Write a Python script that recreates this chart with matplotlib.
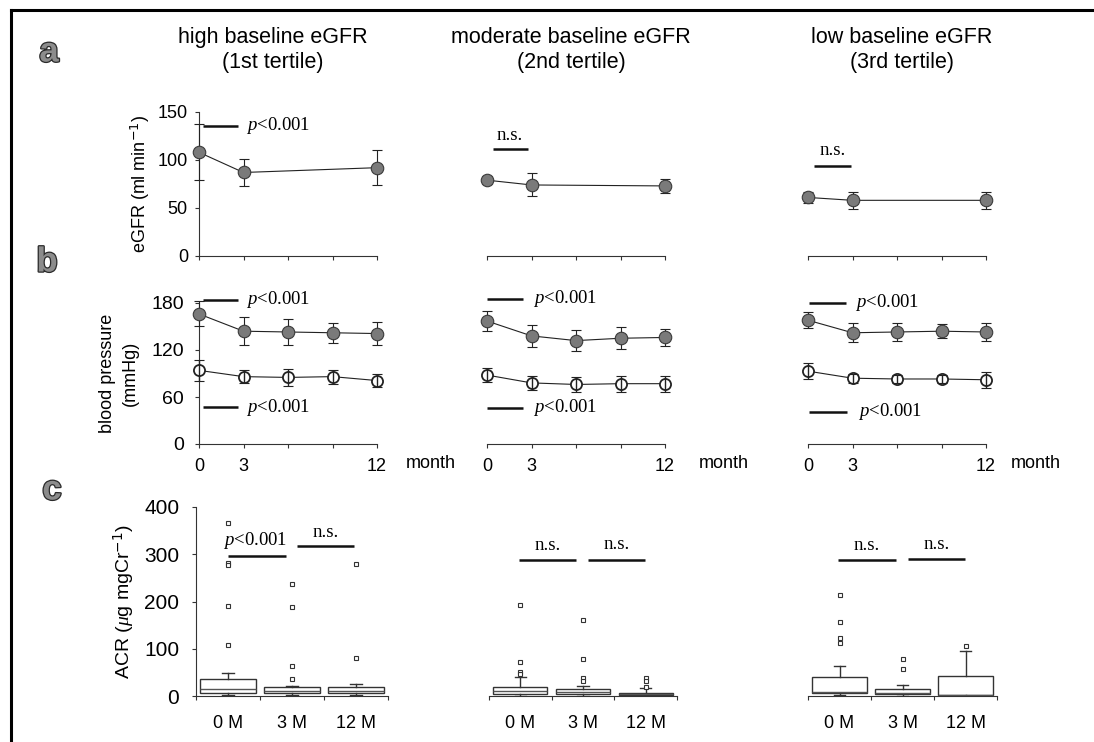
import matplotlib
matplotlib.use("Agg")
import matplotlib.pyplot as plt
from matplotlib.lines import Line2D
import matplotlib.patheffects as pe

plt.rcParams['font.family'] = ['Liberation Sans', 'DejaVu Sans']
plt.rcParams['mathtext.fontset'] = 'custom'
plt.rcParams['mathtext.it'] = 'Liberation Serif:italic'
plt.rcParams['mathtext.rm'] = 'Liberation Serif'

# ---------------- data ----------------
group_titles = ["high baseline eGFR\n(1st tertile)",
                "moderate baseline eGFR\n(2nd tertile)",
                "low baseline eGFR\n(3rd tertile)"]

egfr_months = [0, 3, 12]
egfr_mean_high = [108, 87, 92]
egfr_err_high = [29, 14, 18]
egfr_mean_mod = [79, 74, 73]
egfr_err_mod = [4, 12, 7]
egfr_mean_low = [61, 58, 58]
egfr_err_low = [6, 9, 9]

bp_months = [0, 3, 6, 9, 12]
sbp_high = [166, 144, 143, 142, 141]
sbp_err_high = [16, 18, 17, 13, 15]
dbp_high = [94, 86, 85, 86, 81]
dbp_err_high = [13, 8, 11, 9, 8]
sbp_mod = [157, 138, 132, 135, 136]
sbp_err_mod = [13, 14, 13, 14, 11]
dbp_mod = [88, 78, 76, 77, 77]
dbp_err_mod = [9, 9, 10, 10, 10]
sbp_low = [158, 142, 143, 144, 143]
sbp_err_low = [10, 12, 11, 9, 12]
dbp_low = [93, 84, 83, 83, 82]
dbp_err_low = [10, 6, 5, 5, 10]

acr_labels = ["0 M", "3 M", "12 M"]
# per group: q1, median, q3, whisker low, whisker high, outliers
acr_q1_high = [6, 6, 6]
acr_med_high = [15, 11, 11]
acr_q3_high = [36, 19, 19]
acr_lo_high = [2, 2, 2]
acr_hi_high = [48, 21, 25]
acr_out_high = [[366, 281, 277, 190, 107], [238, 188, 64, 36], [279, 80]]

acr_q1_mod = [4, 4, 2]
acr_med_mod = [11, 9, 4]
acr_q3_mod = [20, 15, 6]
acr_lo_mod = [1, 1, 0]
acr_hi_mod = [41, 21, 17]
acr_out_mod = [[193, 72, 51, 46], [161, 78, 38, 32], [38, 32, 19]]

acr_q1_low = [6, 5, 2]
acr_med_low = [8, 6, 3]
acr_q3_low = [40, 15, 42]
acr_lo_low = [2, 1, 0]
acr_hi_low = [64, 24, 96]
acr_out_low = [[213, 156, 122, 112], [78, 58], [106]]

# ---------------- layout ----------------
W, H = 1094, 742
fig = plt.figure(figsize=(W / 100, H / 100), dpi=100)


def px_axes(x0, x1, ytop, ybot):
    return fig.add_axes([x0 / W, 1 - ybot / H, (x1 - x0) / W, (ybot - ytop) / H])


SPINE = '#333333'
MFILL = '#7a7a7a'
MEDGE = '#3a3a3a'
SERIF = 'Liberation Serif'
PTXT = r'$\it{p}$<0.001'
FS = 13


def style_axes(ax, show_left, ysize=FS, ypad=5):
    for s in ['top', 'right']:
        ax.spines[s].set_visible(False)
    ax.spines['left'].set_visible(show_left)
    for s in ['left', 'bottom']:
        ax.spines[s].set_linewidth(0.8)
        ax.spines[s].set_color(SPINE)
    ax.tick_params(direction='out', length=3, width=0.8, color=SPINE,
                   labelsize=FS, pad=5)
    ax.tick_params(axis='y', labelsize=ysize, pad=ypad)
    if not show_left:
        ax.tick_params(axis='y', left=False, labelleft=False)


def filled_series(ax, x, y, e):
    ax.errorbar(x, y, yerr=e, fmt='none', ecolor='#222222', elinewidth=0.8,
                capsize=3.8, capthick=0.8, zorder=3, clip_on=False)
    ax.plot(x, y, '-', color='#222222', lw=0.8, zorder=3, clip_on=False)
    ax.plot(x, y, 'o', ms=9, mfc=MFILL, mec=MEDGE, mew=0.8, zorder=4,
            clip_on=False)


def open_series(ax, x, y, e):
    ax.plot(x, y, '-', color='#222222', lw=0.8, zorder=3, clip_on=False)
    ax.plot(x, y, 'o', ms=8, mfc='white', mec='#222222', mew=1.3, zorder=4,
            clip_on=False)
    ax.errorbar(x, y, yerr=e, fmt='none', ecolor='#222222', elinewidth=1.0,
                capsize=3.8, capthick=0.8, zorder=5, clip_on=False)


def sig_line(ax, x0, x1, y):
    ax.plot([x0, x1], [y, y], color='#111111', lw=1.8, clip_on=False,
            solid_capstyle='butt')


def sig_text(ax, x, y, s, ha='left'):
    ax.text(x, y, s, fontsize=13.5, family=SERIF, ha=ha, va='center')


# columns x-extents (pixels)
colx_ab = [(199, 377), (487, 665), (808, 986)]
colx_c = [(196, 388), (489, 677), (808, 997)]

egfr_means = [egfr_mean_high, egfr_mean_mod, egfr_mean_low]
egfr_errs = [egfr_err_high, egfr_err_mod, egfr_err_low]
sbps = [sbp_high, sbp_mod, sbp_low]
sbp_errs = [sbp_err_high, sbp_err_mod, sbp_err_low]
dbps = [dbp_high, dbp_mod, dbp_low]
dbp_errs = [dbp_err_high, dbp_err_mod, dbp_err_low]

acr_q1 = [acr_q1_high, acr_q1_mod, acr_q1_low]
acr_med = [acr_med_high, acr_med_mod, acr_med_low]
acr_q3 = [acr_q3_high, acr_q3_mod, acr_q3_low]
acr_lo = [acr_lo_high, acr_lo_mod, acr_lo_low]
acr_hi = [acr_hi_high, acr_hi_mod, acr_hi_low]
acr_out = [acr_out_high, acr_out_mod, acr_out_low]

title_x = [273, 571, 902]
month_x = [1.16, 1.19, 1.14]

for i in range(3):
    # ---- panel a ----
    x0, x1 = colx_ab[i]
    ax = px_axes(x0, x1, 112, 256)
    style_axes(ax, i == 0)
    ax.set_xlim(0, 12)
    ax.set_ylim(0, 150)
    ax.set_xticks([0, 3, 6, 9, 12])
    ax.tick_params(axis='x', labelbottom=False)
    ax.set_yticks([0, 50, 100, 150])
    filled_series(ax, egfr_months, egfr_means[i], egfr_errs[i])
    if i == 0:
        ax.set_ylabel('eGFR (ml min$^{\\mathsf{-1}}$)', fontsize=FS, labelpad=4)
        sig_line(ax, 0.27, 2.63, 135)
        sig_text(ax, 3.2, 136, PTXT)
    elif i == 1:
        sig_line(ax, 0.4, 2.76, 111)
        sig_text(ax, 1.5, 126, 'n.s.', ha='center')
    else:
        sig_line(ax, 0.4, 2.9, 94)
        sig_text(ax, 1.65, 110, 'n.s.', ha='center')

    # ---- panel b ----
    ax = px_axes(x0, x1, 303, 444)
    style_axes(ax, i == 0, ysize=14, ypad=8)
    ax.set_xlim(0, 12)
    ax.set_ylim(0, 180)
    ax.set_xticks([0, 3, 6, 9, 12])
    ax.set_xticklabels(['0', '3', '', '', '12'])
    ax.tick_params(axis='x', pad=7)
    ax.set_yticks([0, 60, 120, 180])
    filled_series(ax, bp_months, sbps[i], sbp_errs[i])
    open_series(ax, bp_months, dbps[i], dbp_errs[i])
    ax.text(month_x[i], -0.14, 'month', transform=ax.transAxes, fontsize=FS,
            ha='left', va='center')
    if i == 0:
        ax.set_ylabel('blood pressure\n(mmHg)', fontsize=FS, labelpad=9,
                      linespacing=1.4)
        sig_line(ax, 0.27, 2.63, 184)
        sig_text(ax, 3.2, 185, PTXT)
        sig_line(ax, 0.27, 2.63, 47)
        sig_text(ax, 3.2, 47, PTXT)
    elif i == 1:
        sig_line(ax, 0.0, 2.43, 185)
        sig_text(ax, 3.1, 186, PTXT)
        sig_line(ax, 0.0, 2.43, 46)
        sig_text(ax, 3.1, 46, PTXT)
    else:
        sig_line(ax, 0.07, 2.55, 180)
        sig_text(ax, 3.2, 181, PTXT)
        sig_line(ax, 0.1, 2.6, 41)
        sig_text(ax, 3.4, 41, PTXT)

    # ---- panel c ----
    cx0, cx1 = colx_c[i]
    ax = px_axes(cx0, cx1, 507, 696)
    style_axes(ax, i == 0, ysize=15, ypad=9)
    ax.set_xlim(0, 3)
    ax.set_ylim(0, 400)
    ax.set_yticks([0, 100, 200, 300, 400])
    stats = []
    for k in range(3):
        stats.append(dict(q1=acr_q1[i][k], med=acr_med[i][k], q3=acr_q3[i][k],
                          whislo=acr_lo[i][k], whishi=acr_hi[i][k],
                          fliers=acr_out[i][k], label=acr_labels[k]))
    ax.bxp(stats, positions=[0.5, 1.5, 2.5], widths=0.86, capwidths=0.18,
           patch_artist=True, manage_ticks=False,
           boxprops=dict(facecolor='white', edgecolor='#333333', linewidth=1.0),
           medianprops=dict(color='#555555', linewidth=1.0),
           whiskerprops=dict(color='#333333', linewidth=1.0),
           capprops=dict(color='#333333', linewidth=1.0),
           flierprops=dict(marker='s', markersize=3, markerfacecolor='white',
                           markeredgecolor='#333333', markeredgewidth=0.8))
    ax.set_xticks([0, 1, 2, 3])
    ax.set_xticklabels([])
    ax.set_xticks([0.5, 1.5, 2.5], minor=True)
    ax.set_xticklabels(acr_labels, minor=True)
    ax.tick_params(axis='x', which='minor', length=0, pad=14, labelsize=FS)
    if i == 0:
        ax.set_ylabel('ACR ($\\mu$g mgCr$^{\\mathsf{-1}}$)', fontsize=14,
                      labelpad=6)
        sig_line(ax, 0.5, 1.4, 296)
        sig_text(ax, 0.92, 330, PTXT, ha='center')
        sig_line(ax, 1.58, 2.47, 318)
        sig_text(ax, 2.02, 345, 'n.s.', ha='center')
    else:
        sig_line(ax, 0.48, 1.39, 287)
        sig_line(ax, 1.58, 2.49, 289 if i == 2 else 287)
        sig_text(ax, 0.93, 318, 'n.s.', ha='center')
        sig_text(ax, 2.04, 320, 'n.s.', ha='center')

    # ---- column title ----
    fig.text(title_x[i] / W, 1 - 50 / H, group_titles[i], ha='center',
             va='center', fontsize=15.5, linespacing=1.25)

# panel letters
for letter, (lx, ly) in zip(['a', 'b', 'c'], [(49, 52), (47, 262), (52, 490)]):
    fig.text(lx / W, 1 - ly / H, letter, fontsize=25, fontweight='bold',
             color='#8c8c8c', ha='center', va='center',
             path_effects=[pe.withStroke(linewidth=1.8, foreground='#2a2a2a')])

# frame (left and top edges)
fig.add_artist(Line2D([11 / W, 11 / W], [0, 1 - 10 / H], color='black', lw=2.2,
                      transform=fig.transFigure))
fig.add_artist(Line2D([11 / W, 1], [1 - 10 / H, 1 - 10 / H], color='black',
                      lw=2.2, transform=fig.transFigure))

fig.savefig('out.png', dpi=100)
